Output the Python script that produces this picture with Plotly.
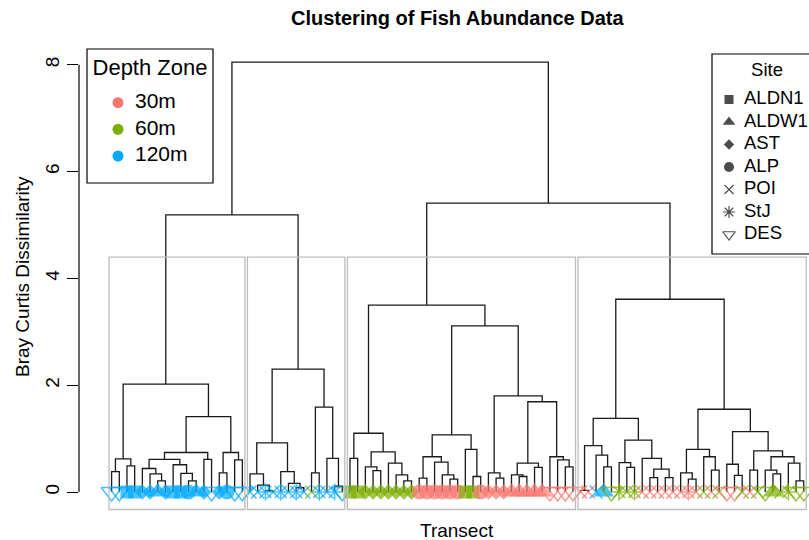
import plotly.graph_objects as go

FONT = "Liberation Sans, Arial, Helvetica, sans-serif"

# ---------------------------------------------------------------------------
# Hierarchical clustering result (Bray-Curtis dissimilarity).
# Every node is (merge height, left subtree, right subtree);
# integers are the leaf positions along the dendrogram.
# ---------------------------------------------------------------------------
cluster_1 = (2.02,
             (0.62, (0.38, 1, 2), (0.49, 3, 4)),
             (1.41,
              (0.74,
               (0.61, (0.44, 5, (0.34, 6, (0.21, 7, 8))),
                      (0.51, 9, (0.35, 10, (0.21, 11, 12)))),
               (0.61, 13, 14)),
              (0.74, (0.36, 15, 16), (0.60, 17, 18))))

cluster_2 = (2.30,
             (0.92, (0.34, 19, (0.13, 20, (0.02, 21, 22))),
                    (0.38, 23, (0.16, 24, (0.08, 25, 26)))),
             (1.59, (0.36, 27, 28), (0.63, 29, (0.11, 30, 31))))

cluster_3 = (3.50,
             (1.10, (0.63, 32, 33),
                    (0.75, (0.47, 34, (0.40, 35, 36)),
                           (0.54, 37, (0.32, 38, (0.21, 39, 40))))),
             (3.11,
              (1.07, (0.66, (0.26, 41, 42), (0.56, 43, (0.32, 44, (0.24, 45, 46)))),
                     (0.80, 47, (0.29, 48, 49))),
              (1.80, (0.36, 50, (0.26, 51, 52)),
                     (1.69, (0.54, (0.32, 53, (0.29, 54, 55)), (0.46, 56, 57)),
                            (0.66, 58, (0.60, 59, (0.47, 60, 61)))))))

cluster_4 = (3.61,
             (1.38, (0.87, (0.03, 62, 63), (0.69, 64, (0.47, 65, 66))),
                    (0.97, (0.55, 67, (0.46, 68, 69)),
                           (0.63, 70, (0.43, (0.27, 71, 72), (0.27, 73, 74))))),
             (1.55, (0.80, (0.36, 75, (0.24, 76, 77)), (0.66, 78, (0.41, 79, 80))),
                    (1.13, (0.52, 81, (0.31, 82, 83)),
                           (0.77, (0.41, 84, 85),
                                  (0.66, (0.41, 86, (0.34, 87, 88)),
                                         (0.54, 89, (0.21, 90, 91)))))))

cluster_sizes = [18, 13, 30, 30]

# merges above the four clusters
merge_c1_c2 = 5.19
merge_c3_c4 = 5.41
merge_root = 8.05

# ---------------------------------------------------------------------------
# Transect attributes, in dendrogram leaf order
# ---------------------------------------------------------------------------
site_c1 = ["DES", "DES", "ALDN1", "ALDN1", "AST", "AST", "ALDW1", "AST", "ALDN1",
           "ALDN1", "ALP", "ALDW1", "AST", "DES", "AST", "ALP", "DES", "DES"]
depth_c1 = [120, 120, 120, 120, 120, 120, 120, 120, 120,
            120, 120, 120, 120, 120, 120, 120, 120, 120]

site_c2 = ["POI", "POI", "StJ", "POI", "StJ", "POI", "StJ", "POI", "POI",
           "StJ", "POI", "StJ", "DES"]
depth_c2 = [120, 120, 120, 120, 120, 120, 120, 120, 60,
            120, 120, 120, 120]

site_c3 = ["ALDN1", "ALDN1", "AST", "AST", "AST", "AST", "AST", "AST", "AST",
           "ALP", "ALP", "ALP", "ALP", "ALP", "ALP", "ALDN1", "ALDN1", "ALP",
           "AST", "AST", "AST", "ALDW1", "ALDW1", "ALDW1", "ALDW1", "ALDW1",
           "DES", "DES", "DES", "DES"]
depth_c3 = [60, 60, 60, 60, 60, 60, 60, 60, 60,
            30, 30, 30, 30, 30, 30, 60, 60, 30,
            30, 30, 30, 30, 30, 30, 30, 30,
            30, 30, 30, 30]

site_c4 = ["POI", "POI", "POI", "ALDW1", "DES", "StJ", "POI", "StJ", "POI",
           "POI", "POI", "POI", "POI", "POI", "StJ", "POI", "POI", "POI",
           "POI", "DES", "DES", "POI", "POI", "POI", "DES", "ALDW1", "POI",
           "StJ", "DES", "DES"]
depth_c4 = [30, 30, 120, 120, 60, 60, 60, 60, 30,
            30, 30, 30, 30, 30, 30, 30, 60, 30,
            60, 30, 30, 60, 30, 60, 60, 60, 60,
            60, 60, 60]

depth_labels = ["30m", "60m", "120m"]
depth_values = [30, 60, 120]
depth_colors = ["#F8766D", "#7CAE00", "#00A9FF"]

site_labels = ["ALDN1", "ALDW1", "AST", "ALP", "POI", "StJ", "DES"]
site_symbols = ["square", "triangle-up", "diamond", "circle",
                "x-thin-open", "asterisk-open", "triangle-down-open"]
leaf_marker_size = [13, 18, 12, 15, 13, 14, 18]
key_marker_size = [9, 11, 8, 10, 9, 10, 11]

# ---------------------------------------------------------------------------
# Dendrogram geometry
# ---------------------------------------------------------------------------
seg_x, seg_y, merge_heights = [], [], []


def place(node):
    """Return (x centre, height) of a node and record its bracket."""
    if isinstance(node, int):
        return float(node), 0.0
    h, left, right = node
    xl, hl = place(left)
    xr, hr = place(right)
    seg_x.extend([xl, xl, xr, xr, None])
    seg_y.extend([hl, h, h, hr, None])
    merge_heights.append(h)
    return (xl + xr) / 2.0, h


tree = (merge_root,
        (merge_c1_c2, cluster_1, cluster_2),
        (merge_c3_c4, cluster_3, cluster_4))
place(tree)

# rect.hclust style boxes for k = 4 groups
k = len(cluster_sizes)
hs = sorted(merge_heights, reverse=True)
box_top = (hs[k - 2] + hs[k - 1]) / 2.0
bounds = [0]
for n in cluster_sizes:
    bounds.append(bounds[-1] + n)

leaf_site = site_c1 + site_c2 + site_c3 + site_c4
leaf_depth = depth_c1 + depth_c2 + depth_c3 + depth_c4
n_leaves = len(leaf_site)

# ---------------------------------------------------------------------------
# Page / axis placement (pixels)
# ---------------------------------------------------------------------------
W, H = 809, 540
PL, PR, PT, PB = 79, 809, 45, 511
LEAF1_PX, LEAF_STEP = 111.6, 7.69
ZERO_PX, UNIT_PX = 492.0, 53.4

x_lo = 1 - (LEAF1_PX - PL) / LEAF_STEP
x_hi = x_lo + (PR - PL) / LEAF_STEP
y_lo = (ZERO_PX - PB) / UNIT_PX
y_hi = (ZERO_PX - PT) / UNIT_PX
usr_bottom = (ZERO_PX - 509.5) / UNIT_PX


def px_x(px):
    return (px - PL) / (PR - PL)


def px_y(py):
    return (PB - py) / (PB - PT)


fig = go.Figure()

# dendrogram brackets
fig.add_trace(go.Scatter(x=seg_x, y=seg_y, mode="lines",
                         line=dict(color="#1a1a1a", width=1.3),
                         hoverinfo="skip", showlegend=False))

# leaf symbols
sym, size, col, lw = [], [], [], []
for s, d in zip(leaf_site, leaf_depth):
    i = site_labels.index(s)
    sym.append(site_symbols[i])
    size.append(leaf_marker_size[i])
    col.append(depth_colors[depth_values.index(d)])
    lw.append(1.6 if site_symbols[i].endswith("open") else 0)

fig.add_trace(go.Scatter(
    x=list(range(1, n_leaves + 1)), y=[0] * n_leaves, mode="markers",
    marker=dict(symbol=sym, size=size, color=col,
                line=dict(color=col, width=lw)),
    cliponaxis=False, hoverinfo="skip", showlegend=False))

shapes = []
for a, b in zip(bounds[:-1], bounds[1:]):
    shapes.append(dict(type="rect", xref="x", yref="y",
                       x0=a + 0.66, x1=b + 0.33, y0=usr_bottom, y1=box_top,
                       line=dict(color="#BDBDBD", width=1.3)))

# y axis line limited to the tick range
shapes.append(dict(type="line", xref="paper", yref="y", x0=0, x1=0, y0=0, y1=8,
                   line=dict(color="black", width=1.2)))

# ---------------------------------------------------------------------------
# Legends (pixel coordinates on an overlay axis pair)
# ---------------------------------------------------------------------------
shapes.append(dict(type="rect", xref="x2", yref="y2", x0=87, x1=213, y0=49, y1=183,
                   line=dict(color="black", width=1.2), fillcolor="white", layer="below"))
shapes.append(dict(type="rect", xref="x2", yref="y2", x0=712, x1=840, y0=54, y1=254,
                   line=dict(color="black", width=1.2), fillcolor="white", layer="below"))

depth_key_y = [102.7, 129.3, 156.0]
fig.add_trace(go.Scatter(
    x=[118] * 3, y=depth_key_y, xaxis="x2", yaxis="y2", mode="markers",
    marker=dict(symbol="circle", size=11, color=depth_colors),
    cliponaxis=False, hoverinfo="skip", showlegend=False))
fig.add_trace(go.Scatter(
    x=[135] * 3, y=depth_key_y, xaxis="x2", yaxis="y2", mode="text",
    text=depth_labels, textposition="middle right",
    textfont=dict(family=FONT, size=21, color="black"),
    cliponaxis=False, hoverinfo="skip", showlegend=False))
fig.add_trace(go.Scatter(
    x=[150], y=[69], xaxis="x2", yaxis="y2", mode="text",
    text=["Depth Zone"], textposition="middle center",
    textfont=dict(family=FONT, size=22, color="black"),
    cliponaxis=False, hoverinfo="skip", showlegend=False))

site_key_y = [99.5, 122, 144.5, 167, 189.5, 212, 234.5]
key_lw = [1.2 if s.endswith("open") else 0 for s in site_symbols]
fig.add_trace(go.Scatter(
    x=[729] * len(site_labels), y=site_key_y, xaxis="x2", yaxis="y2", mode="markers",
    marker=dict(symbol=site_symbols, size=key_marker_size, color="black",
                line=dict(color="black", width=key_lw)),
    cliponaxis=False, hoverinfo="skip", showlegend=False))
fig.add_trace(go.Scatter(
    x=[744] * len(site_labels), y=site_key_y, xaxis="x2", yaxis="y2", mode="text",
    text=site_labels, textposition="middle right",
    textfont=dict(family=FONT, size=18.5, color="black"),
    cliponaxis=False, hoverinfo="skip", showlegend=False))
fig.add_trace(go.Scatter(
    x=[767], y=[71], xaxis="x2", yaxis="y2", mode="text",
    text=["Site"], textposition="middle center",
    textfont=dict(family=FONT, size=18.5, color="black"),
    cliponaxis=False, hoverinfo="skip", showlegend=False))

annotations = [
    dict(text="<b>Clustering of Fish Abundance Data</b>", xref="paper", yref="paper",
         x=px_x(457), y=px_y(18), xanchor="center", yanchor="middle", showarrow=False,
         font=dict(family=FONT, size=20, color="black")),
    dict(text="Transect", xref="paper", yref="paper",
         x=px_x(457), y=px_y(530), xanchor="center", yanchor="middle", showarrow=False,
         font=dict(family=FONT, size=19, color="black")),
    dict(text="Bray Curtis Dissimilarity", xref="paper", yref="paper",
         x=px_x(22), y=px_y(277), xanchor="center", yanchor="middle", showarrow=False,
         textangle=-90, font=dict(family=FONT, size=19, color="black")),
]

fig.update_layout(
    width=W, height=H,
    margin=dict(l=PL, r=W - PR, t=PT, b=H - PB, pad=0),
    paper_bgcolor="white", plot_bgcolor="white",
    showlegend=False,
    xaxis=dict(range=[x_lo, x_hi], visible=False, showgrid=False, zeroline=False),
    yaxis=dict(range=[y_lo, y_hi], showgrid=False, zeroline=False, showline=False,
               tickmode="array", tickvals=[0, 2, 4, 6, 8], ticktext=["0", "2", "4", "6", "8"],
               ticks="outside", ticklen=11, tickwidth=1.2, tickcolor="black",
               tickangle=-90, tickfont=dict(family=FONT, size=19, color="black")),
    xaxis2=dict(range=[PL, PR], overlaying="x", visible=False, showgrid=False, zeroline=False),
    yaxis2=dict(range=[PB, PT], overlaying="y", visible=False, showgrid=False, zeroline=False),
    shapes=shapes,
    annotations=annotations,
)

fig.write_html("out.html")
